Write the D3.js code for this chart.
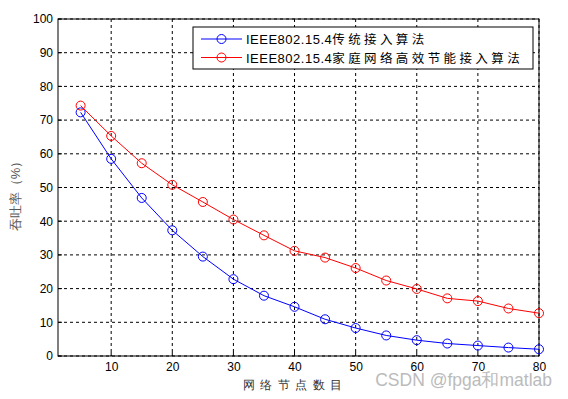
<!DOCTYPE html>
<html>
<head>
<meta charset="utf-8">
<script src="https://cdn.jsdelivr.net/npm/d3@7"></script>
<style>
  body { margin: 0; background: #fff; }
  text { font-family: "Liberation Sans", Arial, sans-serif; }
</style>
</head>
<body>
<div id="chart"></div>
<script>
// data
var nodes = [5, 10, 15, 20, 25, 30, 35, 40, 45, 50, 55, 60, 65, 70, 75, 80];
var classic = [72.3, 58.5, 46.9, 37.3, 29.5, 22.8, 17.9, 14.6, 10.9, 8.3, 6.1, 4.7, 3.7, 3.1, 2.5, 2.0];
var efficient = [74.3, 65.3, 57.2, 50.8, 45.7, 40.5, 35.8, 31.2, 29.2, 26.1, 22.4, 19.9, 17.1, 16.3, 14.1, 12.7];
var xTicks = [10, 20, 30, 40, 50, 60, 70, 80];
var yTicks = [0, 10, 20, 30, 40, 50, 60, 70, 80, 90, 100];
var seriesPrefix = "IEEE802.15.4";
var seriesNames = ["传统接入算法", "家庭网络高效节能接入算法"];
var seriesColors = ["#0000ff", "#ff0000"];

var width = 568, height = 399;
var margin = { top: 19, right: 29, bottom: 43, left: 58 };
var plot_w = width - margin.left - margin.right,
    plot_h = height - margin.top - margin.bottom;

var svg = d3.select("#chart").append("svg")
    .attr("width", width)
    .attr("height", height);

var g = svg.append("g").attr("transform", "translate(" + margin.left + "," + margin.top + ")");

var x = d3.scaleLinear().domain([1.3, 80]).range([0, plot_w]);
var y = d3.scaleLinear().domain([0, 100]).range([plot_h, 0]);

// grid
g.selectAll(".vgrid").data(xTicks).enter().append("line")
    .attr("x1", function (d) { return x(d); })
    .attr("x2", function (d) { return x(d); })
    .attr("y1", 0).attr("y2", plot_h)
    .attr("stroke", "#000").attr("stroke-dasharray", "3,3");
g.selectAll(".hgrid").data(yTicks).enter().append("line")
    .attr("x1", 0).attr("x2", plot_w)
    .attr("y1", function (d) { return y(d); })
    .attr("y2", function (d) { return y(d); })
    .attr("stroke", "#000").attr("stroke-dasharray", "3,3");

// frame
g.append("rect")
    .attr("width", plot_w).attr("height", plot_h)
    .attr("fill", "none").attr("stroke", "#000");

// axes
var xAxis = d3.axisBottom(x).tickValues(xTicks).tickSize(0).tickPadding(6);
var yAxis = d3.axisLeft(y).tickValues(yTicks).tickSize(0).tickPadding(5);
var gx = g.append("g").attr("transform", "translate(0," + plot_h + ")").call(xAxis);
var gy = g.append("g").call(yAxis);
[gx, gy].forEach(function (a) {
    a.select(".domain").remove();
    a.selectAll("text").attr("font-size", 12).attr("fill", "#000");
});
// small inner tick marks like matlab
g.selectAll(".xt").data(xTicks).enter().append("line")
    .attr("x1", function (d) { return x(d); }).attr("x2", function (d) { return x(d); })
    .attr("y1", plot_h).attr("y2", plot_h - 4).attr("stroke", "#000");
g.selectAll(".yt").data(yTicks).enter().append("line")
    .attr("x1", 0).attr("x2", 4)
    .attr("y1", function (d) { return y(d); }).attr("y2", function (d) { return y(d); })
    .attr("stroke", "#000");

// lines
var allSeries = [classic, efficient];
var line = d3.line()
    .x(function (d, i) { return x(nodes[i]); })
    .y(function (d) { return y(d); });

allSeries.forEach(function (s, k) {
    g.append("path").datum(s)
        .attr("d", line)
        .attr("fill", "none")
        .attr("stroke", seriesColors[k])
        .attr("stroke-width", 1);
    g.selectAll(".pt" + k).data(s).enter().append("circle")
        .attr("cx", function (d, i) { return x(nodes[i]); })
        .attr("cy", function (d) { return y(d); })
        .attr("r", 4.5)
        .attr("fill", "none")
        .attr("stroke", seriesColors[k]);
});

// legend
var leg = svg.append("g").attr("transform", "translate(193,27)");
leg.append("rect").attr("width", 340).attr("height", 42)
    .attr("fill", "#fff").attr("stroke", "#000");
seriesNames.forEach(function (name, k) {
    var ly = 12 + k * 18.5;
    leg.append("line").attr("x1", 8).attr("x2", 49).attr("y1", ly).attr("y2", ly)
        .attr("stroke", seriesColors[k]);
    leg.append("circle").attr("cx", 28.5).attr("cy", ly).attr("r", 4.5)
        .attr("fill", "none").attr("stroke", seriesColors[k]);
    var t = leg.append("text").attr("x", 53).attr("y", ly + 5)
        .attr("font-size", 13).attr("fill", "#000");
    t.append("tspan").attr("letter-spacing", 0.5).text(seriesPrefix);
    t.append("tspan")
        .attr("font-family", "'Noto Sans CJK SC', sans-serif")
        .attr("font-size", 12.5)
        .attr("letter-spacing", 3.4)
        .text(name);
});

// axis labels
svg.append("text")
    .attr("x", 295).attr("y", 389)
    .attr("text-anchor", "middle")
    .attr("font-size", 12)
    .attr("letter-spacing", 5.5)
    .attr("font-family", "'Noto Sans CJK SC', sans-serif")
    .attr("fill", "#333")
    .text("网络节点数目");

svg.append("text")
    .attr("transform", "translate(20," + 193 + ") rotate(-90)")
    .attr("text-anchor", "middle")
    .attr("font-size", 13)
    .attr("font-family", "'Noto Sans CJK SC', sans-serif")
    .attr("fill", "#555")
    .text("吞吐率（%）");

// watermark
svg.append("text")
    .attr("x", 552).attr("y", 386)
    .attr("text-anchor", "end")
    .attr("font-size", 17.5)
    .attr("font-family", "'Noto Sans CJK SC', sans-serif")
    .attr("fill", "#bbb")
    .text("CSDN @fpga和matlab");
</script>
</body>
</html>
